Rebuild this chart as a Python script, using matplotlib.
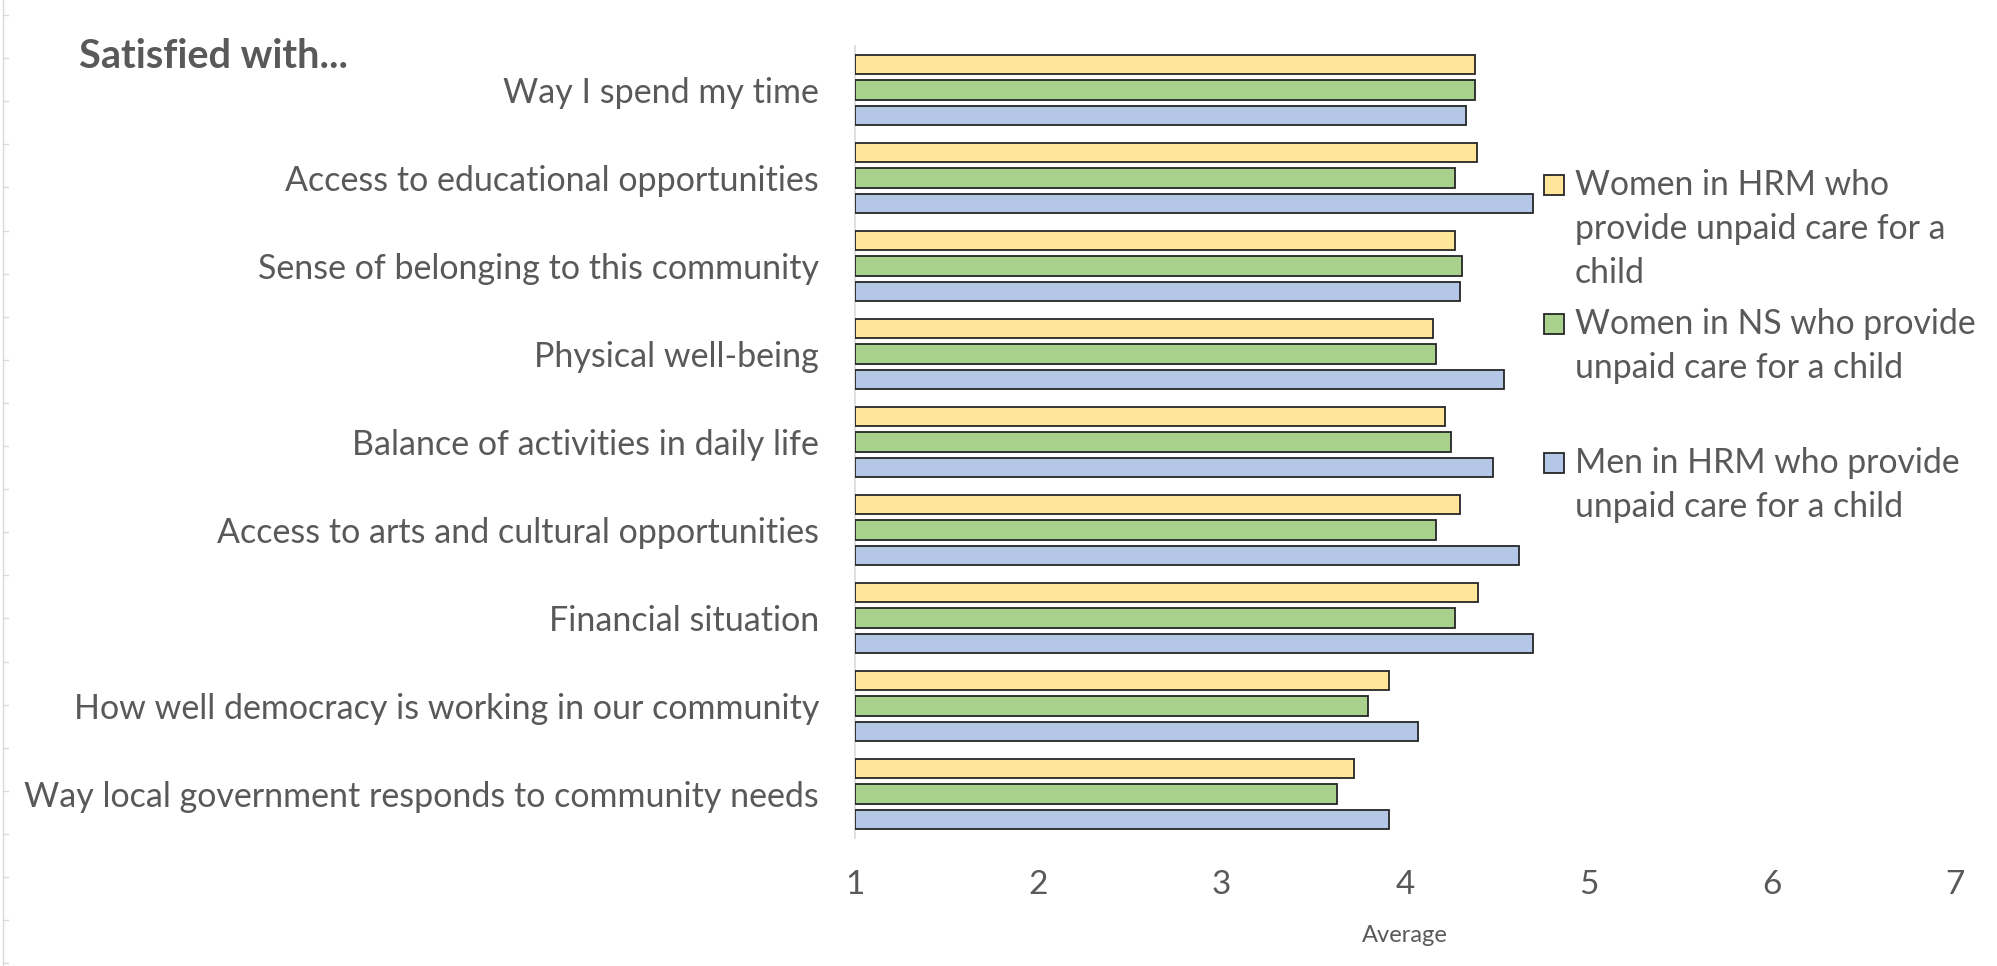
import matplotlib
matplotlib.use("Agg")
import matplotlib.pyplot as plt
from matplotlib.patches import Rectangle
from matplotlib.lines import Line2D
import numpy as np

# Satisfaction items (top to bottom)
categories = [
    "Way I spend my time",
    "Access to educational opportunities",
    "Sense of belonging to this community",
    "Physical well-being",
    "Balance of activities in daily life",
    "Access to arts and cultural opportunities",
    "Financial situation",
    "How well democracy is working in our community",
    "Way local government responds to community needs",
]

# Average satisfaction scores (1-7 scale)
women_hrm = [4.38, 4.39, 4.27, 4.15, 4.22, 4.30, 4.40, 3.91, 3.72]
women_ns = [4.38, 4.27, 4.31, 4.17, 4.25, 4.17, 4.27, 3.80, 3.63]
men_hrm = [4.33, 4.70, 4.30, 4.54, 4.48, 4.62, 4.70, 4.07, 3.91]

series_labels = [
    "Women in HRM who\nprovide unpaid care for a\nchild",
    "Women in NS who provide\nunpaid care for a child",
    "Men in HRM who provide\nunpaid care for a child",
]
series_colors = ["#FFE699", "#A9D18E", "#B4C7E7"]
x_ticks = [1, 2, 3, 4, 5, 6, 7]

FONT = "Lato"
TEXT = "#595959"
EDGE = "#262626"

W, H = 1997, 966
fig = plt.figure(figsize=(W / 100, H / 100), dpi=100)
fig.patch.set_facecolor("white")

ax = fig.add_axes([855 / W, 1 - 838 / H, 1100 / W, 792 / H])

y = np.arange(len(categories))
offset = 0.2875
bar_h = 0.22
base = x_ticks[0]
for vals, color, dy in zip([women_hrm, women_ns, men_hrm], series_colors, [-offset, 0, offset]):
    vals = np.asarray(vals)
    ax.barh(y + dy, vals - base, left=base, height=bar_h, color=color,
            edgecolor=EDGE, linewidth=1.3, zorder=3)

ax.set_xlim(x_ticks[0], x_ticks[-1])
ax.set_ylim(len(categories) - 0.5, -0.5)

ax.set_yticks(y)
ax.set_yticklabels(categories, fontsize=24.5, color=TEXT, family=FONT)
ax.tick_params(axis="y", length=0, pad=26)

ax.set_xticks(x_ticks)
ax.set_xticklabels([str(t) for t in x_ticks], fontsize=24, color=TEXT, family=FONT)
ax.tick_params(axis="x", length=0, pad=23)
ax.set_xlabel("Average", fontsize=17, color=TEXT, family=FONT, labelpad=18)

for side in ["top", "right", "bottom"]:
    ax.spines[side].set_visible(False)
ax.spines["left"].set_color("#D9D9D9")
ax.spines["left"].set_linewidth(1.2)

# Title
fig.text(79 / W, 1 - 57 / H, "Satisfied with...", fontsize=28.5, fontweight="bold",
         color=TEXT, family=FONT, ha="left", va="center")

# Legend, drawn with squares aligned to each entry's first line
legend_rows = [185, 324, 463]
line_gap = 44
for label, color, yc in zip(series_labels, series_colors, legend_rows):
    fig.add_artist(Rectangle((1544 / W, 1 - (yc + 10) / H), 20 / W, 20 / H,
                             transform=fig.transFigure, facecolor=color,
                             edgecolor=EDGE, linewidth=1.3))
    for k, line in enumerate(label.split("\n")):
        fig.text(1575 / W, 1 - (yc + k * line_gap) / H, line, fontsize=24.3,
                 color=TEXT, family=FONT, ha="left", va="center")

# Thin sheet border along the left edge
fig.add_artist(Line2D([3 / W, 3 / W], [0, 1], transform=fig.transFigure,
                      color="#D9D9D9", linewidth=1.0))
for yy in np.arange(15, H, 43.1):
    fig.add_artist(Line2D([3 / W, 8 / W], [1 - yy / H, 1 - yy / H],
                          transform=fig.transFigure, color="#D9D9D9", linewidth=1.0))

fig.savefig("out.png", dpi=100)
